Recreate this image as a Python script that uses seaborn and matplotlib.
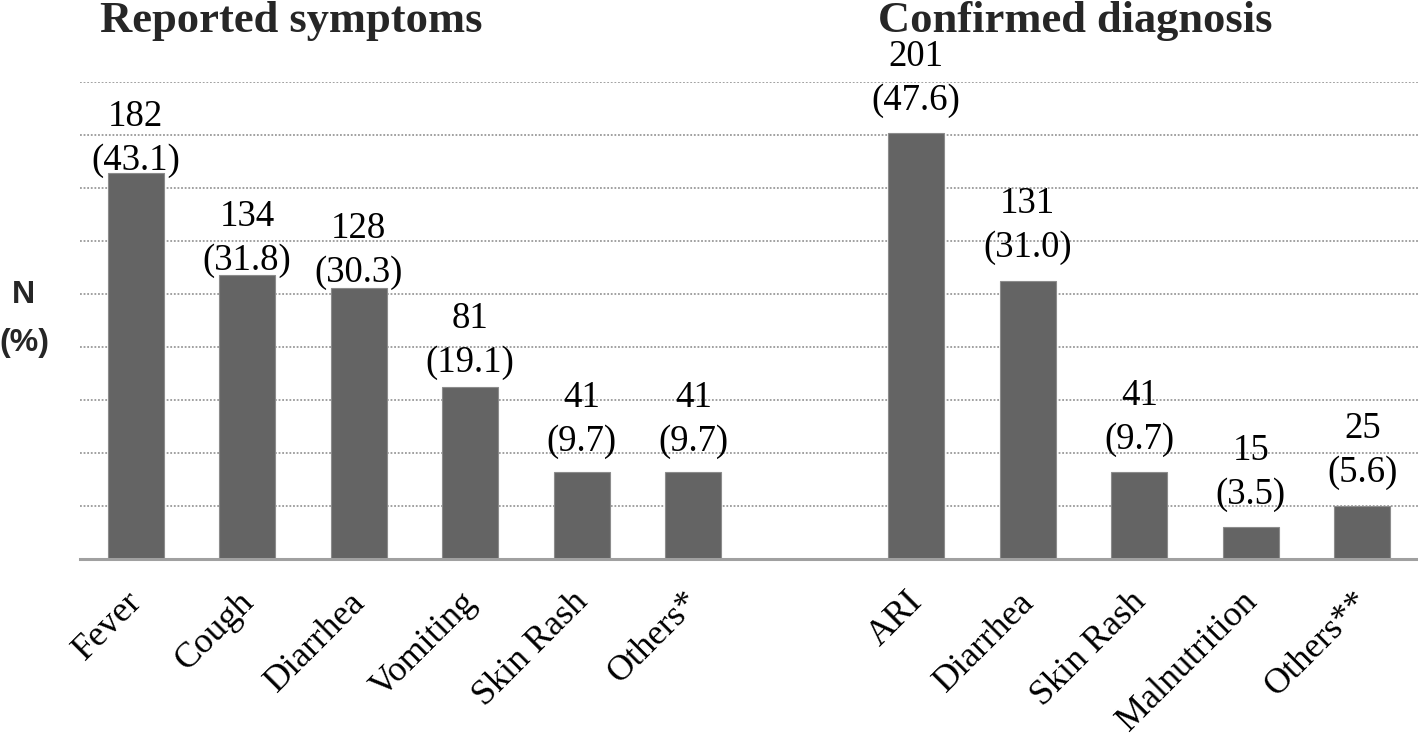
import matplotlib
matplotlib.use("Agg")
import matplotlib.pyplot as plt
import matplotlib.transforms as mtransforms
import seaborn as sns
import numpy as np
import pandas as pd

# ---- data ----
symptom_labels = ["Fever", "Cough", "Diarrhea", "Vomiting", "Skin Rash", "Others*"]
symptom_n = [182, 134, 128, 81, 41, 41]
symptom_pct = [43.1, 31.8, 30.3, 19.1, 9.7, 9.7]

diag_labels = ["ARI", "Diarrhea", "Skin Rash", "Malnutrition", "Others**"]
diag_n = [201, 131, 41, 15, 25]
diag_pct = [47.6, 31.0, 9.7, 3.5, 5.6]

title_left = "Reported symptoms"
title_right = "Confirmed diagnosis"
y_label_lines = ["N", "(%)"]
y_ticks = [0, 25, 50, 75, 100, 125, 150, 175, 200, 225]

# ---- layout / style (not data) ----
gap = 1
label_gap_px = [3, 5, 6, 15, 21, 21, 23, 24, 23, 23, 24]  # bar top -> label baseline
line_gap_px = 44

pos_s = list(range(len(symptom_labels)))
pos_d = [len(symptom_labels) + gap + i for i in range(len(diag_labels))]

df = pd.DataFrame({
    "pos": pos_s + pos_d,
    "n": symptom_n + diag_n,
    "pct": symptom_pct + diag_pct,
    "label": symptom_labels + diag_labels,
})

sns.set_theme(style="white")
plt.rcParams["font.family"] = ["Liberation Serif", "DejaVu Serif"]

W, H = 1418, 739
DPI = 100
fig = plt.figure(figsize=(W / DPI, H / DPI), dpi=DPI)
ax = fig.add_axes([80 / W, (H - 559) / H, 1 - 80 / W, (559 - 82) / H])

sns.barplot(data=df, x="pos", y="n", native_scale=True, width=0.5,
            color="#646464", saturation=1, edgecolor="#8c8c8c", linewidth=0.8,
            ax=ax, zorder=3)

ax.set_xlim(-0.5, df["pos"].max() + 0.5)
ax.set_ylim(0, y_ticks[-1])
ax.set_yticks(y_ticks)
ax.yaxis.grid(True, linestyle=(0, (1, 1)), color="#9a9a9a", linewidth=1.3, zorder=0)
ax.xaxis.grid(False)
ax.tick_params(axis="y", left=False, labelleft=False)
ax.tick_params(axis="x", bottom=False, pad=8)
for s in ["top", "left", "right"]:
    ax.spines[s].set_visible(False)
ax.spines["bottom"].set_color("#a0a0a0")
ax.spines["bottom"].set_linewidth(2.2)
ax.spines["bottom"].set_zorder(4)
ax.set_xlabel("")
ax.set_ylabel("")

ax.set_xticks(df["pos"])
ax.set_xticklabels(df["label"], rotation=45, ha="right", va="top",
                   rotation_mode="anchor", fontsize=26, color="black")
shift = mtransforms.ScaledTranslation(-10 / DPI, -7 / DPI, fig.dpi_scale_trans)
for lbl in ax.get_xticklabels():
    lbl.set_transform(lbl.get_transform() + shift)

for p, n, pc, g in zip(df["pos"], df["n"], df["pct"], label_gap_px):
    ax.annotate(f"({pc:.1f})", xy=(p, n), xytext=(0, g * 72 / DPI),
                textcoords="offset points", ha="center", va="baseline",
                fontsize=26.5, color="black", annotation_clip=False, zorder=5)
    ax.annotate(f"{n}", xy=(p, n), xytext=(0, (g + line_gap_px) * 72 / DPI),
                textcoords="offset points", ha="center", va="baseline",
                fontsize=26.5, color="black", annotation_clip=False, zorder=5)

fig.text(100 / W, 1 - 32 / H, title_left, ha="left", va="baseline",
         fontsize=32, fontweight="bold")
fig.text(878 / W, 1 - 32 / H, title_right, ha="left", va="baseline",
         fontsize=32, fontweight="bold")

fig.text(23 / W, 1 - 295 / H, y_label_lines[0], ha="center", va="center",
         fontsize=23, fontweight="bold", family=["Liberation Sans", "DejaVu Sans"])
fig.text(24 / W, 1 - 343 / H, y_label_lines[1], ha="center", va="center",
         fontsize=23, fontweight="bold", family=["Liberation Sans", "DejaVu Sans"])

fig.savefig("out.png", dpi=DPI)
